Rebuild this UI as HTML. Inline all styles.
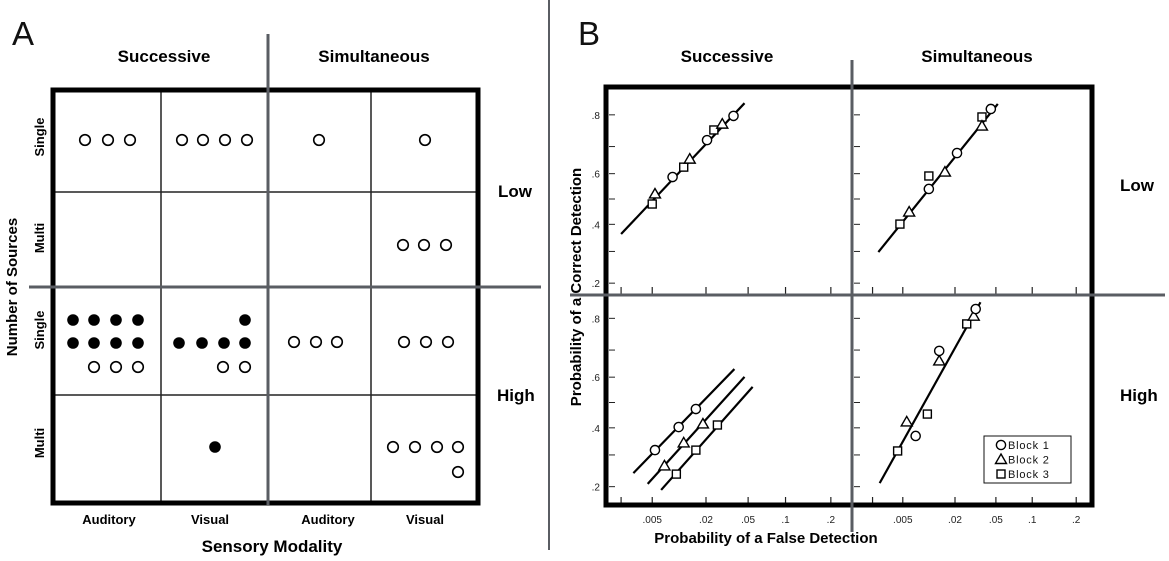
<!DOCTYPE html>
<html><head><meta charset="utf-8"><style>
body{margin:0;background:#fff}
svg{display:block}
text{font-family:"Liberation Sans",Arial,sans-serif}
.b{font-weight:bold}
</style></head><body>
<svg id="fig" width="1169" height="561" viewBox="0 0 1169 561" xmlns="http://www.w3.org/2000/svg">
<rect width="1169" height="561" fill="#fff"/>
<g id="pa">
<text x="12" y="45" font-size="33" fill="#111">A</text>
<text class="b" x="164" y="62" font-size="17" text-anchor="middle">Successive</text>
<text class="b" x="374" y="62" font-size="17" text-anchor="middle">Simultaneous</text>
<line x1="161" y1="89" x2="161" y2="503" stroke="#222" stroke-width="1.5"/>
<line x1="371" y1="89" x2="371" y2="503" stroke="#222" stroke-width="1.5"/>
<line x1="54" y1="192" x2="478" y2="192" stroke="#222" stroke-width="1.5"/>
<line x1="54" y1="395" x2="478" y2="395" stroke="#222" stroke-width="1.5"/>
<rect x="53" y="90" width="425" height="413" fill="none" stroke="#000" stroke-width="5"/>
<line x1="268" y1="34" x2="268" y2="505" stroke="#5a5d63" stroke-width="3"/>
<line x1="29" y1="287" x2="541" y2="287" stroke="#5a5d63" stroke-width="3"/>
<text class="b" x="498" y="197" font-size="17">Low</text>
<text class="b" x="497" y="401" font-size="17">High</text>
<text class="b" font-size="13" transform="translate(44,137) rotate(-90)" text-anchor="middle">Single</text>
<text class="b" font-size="13" transform="translate(44,238) rotate(-90)" text-anchor="middle">Multi</text>
<text class="b" font-size="13" transform="translate(44,330) rotate(-90)" text-anchor="middle">Single</text>
<text class="b" font-size="13" transform="translate(44,443) rotate(-90)" text-anchor="middle">Multi</text>
<text class="b" font-size="15" transform="translate(17,287) rotate(-90)" text-anchor="middle">Number of Sources</text>
<text class="b" font-size="13" x="109" y="524" text-anchor="middle">Auditory</text>
<text class="b" font-size="13" x="210" y="524" text-anchor="middle">Visual</text>
<text class="b" font-size="13" x="328" y="524" text-anchor="middle">Auditory</text>
<text class="b" font-size="13" x="425" y="524" text-anchor="middle">Visual</text>
<text class="b" font-size="17" x="272" y="552" text-anchor="middle">Sensory Modality</text>
<g id="dotsA"></g>
</g>
<line x1="549" y1="0" x2="549" y2="550" stroke="#5a5d63" stroke-width="2"/>
<g id="pb">
<text x="578" y="45" font-size="33" fill="#111">B</text>
<text class="b" x="727" y="62" font-size="17" text-anchor="middle">Successive</text>
<text class="b" x="977" y="62" font-size="17" text-anchor="middle">Simultaneous</text>
<text class="b" x="1120" y="191" font-size="17">Low</text>
<text class="b" x="1120" y="401" font-size="17">High</text>
<g id="plots"></g>
<rect x="606" y="87" width="486" height="418" fill="none" stroke="#000" stroke-width="5"/>
<line x1="852" y1="60" x2="852" y2="532" stroke="#5a5d63" stroke-width="3"/>
<line x1="570" y1="295" x2="1165" y2="295" stroke="#5a5d63" stroke-width="3"/>
<text class="b" font-size="15" transform="translate(581,287) rotate(-90)" text-anchor="middle">Probability of a Correct Detection</text>
<text class="b" font-size="15" x="766" y="543" text-anchor="middle">Probability of a False Detection</text>
<g id="legend">
<rect x="984" y="436" width="87" height="47" fill="#fff" stroke="#111" stroke-width="1"/>
</g>
</g>
</svg>
<script>
const NS="http://www.w3.org/2000/svg";
// Panel A: dot positions per cell (open / filled)
const dotsOpen=[[85,140],[108,140],[130,140],[182,140],[203,140],[225,140],[247,140],[319,140],[425,140],[403,245],[424,245],[446,245],[94,367],[116,367],[138,367],[223,367],[245,367],[294,342],[316,342],[337,342],[404,342],[426,342],[448,342],[393,447],[415,447],[437,447],[458,447],[458,472]];
const dotsFilled=[[73,320],[94,320],[116,320],[138,320],[73,343],[94,343],[116,343],[138,343],[245,320],[179,343],[202,343],[224,343],[245,343],[215,447]];
// Panel B data (probabilities): x = false detection, y = correct detection
const tlX1=[0.0087,0.0205,0.037], tlY1=[0.587,0.722,0.797];
const tlX2=[0.0054,0.0135,0.029], tlY2=[0.52,0.655,0.773];
const tlX3=[0.005,0.0116,0.024], tlY3=[0.48,0.625,0.755];
const tlLineX=[0.002,0.0465], tlLineY=[0.363,0.831];
const trX1=[0.0103,0.021,0.045], trY1=[0.54,0.677,0.816];
const trX2=[0.006,0.0156,0.0372], trY2=[0.448,0.606,0.767];
const trX3=[0.0046,0.0103,0.0372], trY3=[0.401,0.591,0.794];
const trLineX=[0.0024,0.052], trLineY=[0.298,0.829];
const blX1=[0.0054,0.0102,0.0157], blY1=[0.317,0.403,0.474];
const blX2=[0.007,0.0116,0.0186], blY2=[0.263,0.343,0.415];
const blX3=[0.0096,0.0157,0.026], blY3=[0.237,0.317,0.411];
const blLine1X=[0.0029,0.0377], blLine1Y=[0.240,0.631];
const blLine2X=[0.0044,0.0465], blLine2Y=[0.208,0.601];
const blLine3X=[0.0064,0.0547], blLine3Y=[0.191,0.562];
const brX1=[0.0072,0.0135,0.0324], brY1=[0.369,0.697,0.825];
const brX2=[0.0056,0.0135,0.031], brY2=[0.423,0.661,0.806];
const brX3=[0.0043,0.0099,0.0264], brY3=[0.314,0.454,0.784];
const brLineX=[0.0025,0.036], brLineY=[0.21,0.842];
const xTickVals=[0.002,0.005,0.02,0.05,0.1,0.2];
const xTickLabels=["",".005",".02",".05",".1",".2"];
const yTickVals=[0.2,0.3,0.4,0.5,0.6,0.7,0.8];
const yTickLabels=[".2","",".4","",".6","",".8"];
const legendLabels=["Block 1","Block 2","Block 3"];

function probit(p){
 const a=[-39.6968302866538,220.946098424521,-275.928510446969,138.357751867269,-30.6647980661472,2.50662827745924];
 const b=[-54.4760987982241,161.585836858041,-155.698979859887,66.8013118877197,-13.2806815528857];
 const c=[-0.00778489400243029,-0.322396458041136,-2.40075827716184,-2.54973253934373,4.37466414146497,2.93816398269878];
 const d=[0.00778469570904146,0.32246712826344,2.445134137143,3.75440866190742];
 if(p<0.02425){const q=Math.sqrt(-2*Math.log(p));return (((((c[0]*q+c[1])*q+c[2])*q+c[3])*q+c[4])*q+c[5])/((((d[0]*q+d[1])*q+d[2])*q+d[3])*q+1);}
 if(p>1-0.02425){const q=Math.sqrt(-2*Math.log(1-p));return -(((((c[0]*q+c[1])*q+c[2])*q+c[3])*q+c[4])*q+c[5])/((((d[0]*q+d[1])*q+d[2])*q+d[3])*q+1);}
 const q=p-0.5,r=q*q;return (((((a[0]*r+a[1])*r+a[2])*r+a[3])*r+a[4])*r+a[5])*q/(((((b[0]*r+b[1])*r+b[2])*r+b[3])*r+b[4])*r+1);
}
function mk(tag,attrs,parent){const e=document.createElementNS(NS,tag);for(const k in attrs)e.setAttribute(k,attrs[k]);parent.appendChild(e);return e;}

const gA=document.getElementById('dotsA');
dotsOpen.forEach(p=>{const c=mk('circle',{cx:p[0],cy:p[1],r:5.3,fill:'#fff',stroke:'#000','stroke-width':1.6},gA);

});
dotsFilled.forEach(p=>{const c=mk('circle',{cx:p[0],cy:p[1],r:5.8,fill:'#000'},gA);

});

const gP=document.getElementById('plots');
function makePanel(name,x20,xs,y50,ys,xTickBase,yTickBase,labelX,labelY){
 const sx=p=>x20+(probit(p)-probit(0.02))*xs;
 const sy=p=>y50-probit(p)*ys;
 const g=mk('g',{},gP);
 
 
 xTickVals.forEach((v,i)=>{mk('line',{x1:sx(v),x2:sx(v),y1:xTickBase,y2:xTickBase-8,stroke:'#222','stroke-width':1.2},g);
  if(labelX&&xTickLabels[i]){const t=mk('text',{x:sx(v),y:xTickBase+18,'font-size':10,'text-anchor':'middle',fill:'#222'},g);t.textContent=xTickLabels[i];
  
  }});
 yTickVals.forEach((v,i)=>{mk('line',{x1:yTickBase,x2:yTickBase+6,y1:sy(v),y2:sy(v),stroke:'#222','stroke-width':1},g);
  if(labelY&&yTickLabels[i]){const t=mk('text',{x:yTickBase-9,y:sy(v)+4,'font-size':10,'text-anchor':'end',fill:'#222'},g);t.textContent=yTickLabels[i];
  
  }});
 return {g,sx,sy};
}
function fitLine(P,xs,ys){const l=mk('line',{x1:P.sx(xs[0]),y1:P.sy(ys[0]),x2:P.sx(xs[1]),y2:P.sy(ys[1]),stroke:'#000','stroke-width':2.2},P.g);
 
 }
function marker(g,kind,x,y){let e;
 if(kind===0)e=mk('circle',{cx:x,cy:y,r:4.6,fill:'#fff',stroke:'#000','stroke-width':1.4},g);
 else if(kind===1)e=mk('polygon',{points:`${x},${y-5.5} ${x+5.5},${y+4} ${x-5.5},${y+4}`,fill:'#fff',stroke:'#000','stroke-width':1.4},g);
 else e=mk('rect',{x:x-4,y:y-4,width:8,height:8,fill:'#fff',stroke:'#000','stroke-width':1.4},g);
 return e;}
function series(P,xs,ys,kind,nm){xs.forEach((v,i)=>{const e=marker(P.g,kind,P.sx(v),P.sy(ys[i]));
 
 });}

const TL=makePanel('plot-successive-low',706,103,199,100,295,609,false,true);
const TR=makePanel('plot-simultaneous-low',955,100,199,100,295,854,false,false);
const BL=makePanel('plot-successive-high',706,103,402.5,100,505,609,true,true);
const BR=makePanel('plot-simultaneous-high',955,100,402.5,100,505,854,true,false);

fitLine(TL,tlLineX,tlLineY);
series(TL,tlX3,tlY3,2,'block3-point');series(TL,tlX2,tlY2,1,'block2-point');series(TL,tlX1,tlY1,0,'block1-point');
fitLine(TR,trLineX,trLineY);
series(TR,trX3,trY3,2,'block3-point');series(TR,trX2,trY2,1,'block2-point');series(TR,trX1,trY1,0,'block1-point');
fitLine(BL,blLine1X,blLine1Y);fitLine(BL,blLine2X,blLine2Y);fitLine(BL,blLine3X,blLine3Y);
series(BL,blX1,blY1,0,'block1-point');series(BL,blX2,blY2,1,'block2-point');series(BL,blX3,blY3,2,'block3-point');
fitLine(BR,brLineX,brLineY);
series(BR,brX3,brY3,2,'block3-point');series(BR,brX2,brY2,1,'block2-point');series(BR,brX1,brY1,0,'block1-point');

const lg=document.getElementById('legend');
legendLabels.forEach((lab,i)=>{const y=445+i*14.5;
 const m=marker(lg,i,1001,y);
 
 
 const t=mk('text',{x:1008,y:y+4,'font-size':11,'letter-spacing':'0.8',fill:'#111'},lg);t.textContent=lab;
 
 });
</script>
</body></html>
